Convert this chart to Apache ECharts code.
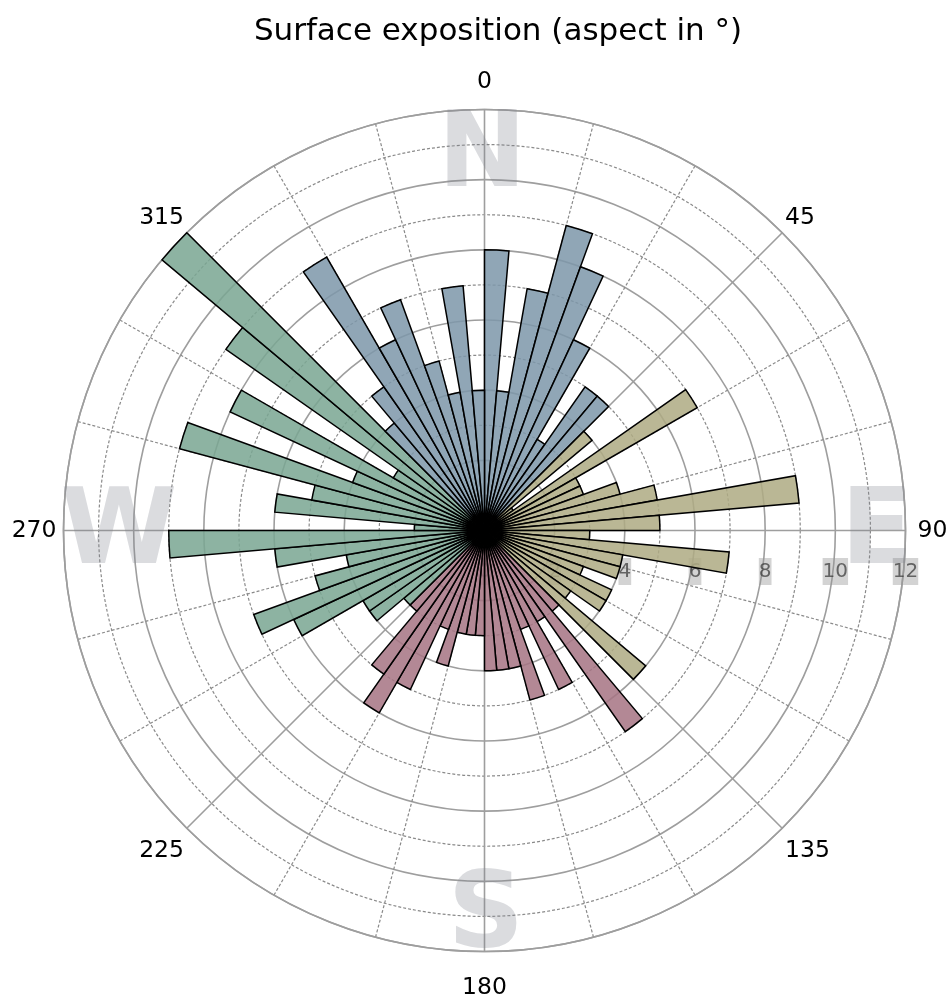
<!DOCTYPE html>
<html>
<head>
<meta charset="utf-8">
<script src="https://cdn.jsdelivr.net/npm/echarts@6/dist/echarts.min.js"></script>
<style>
  html, body { margin: 0; padding: 0; background: #ffffff; }
  #chart { width: 952px; height: 996px; }
</style>
</head>
<body>
<div id="chart"></div>
<script>
// Aspect bins: 72 sectors of 5°, each starting at the listed bearing (clockwise from north)
const sectorStart = Array.from({ length: 72 }, (_, i) => i * 5);

// Number of cells per aspect sector
const counts = [
  8, 4, 7, 9, 8, 6, 3, 5, 5,      // 0 - 45
  4, 1, 7, 3, 3, 4, 5, 9, 5,      // 45 - 90
  3, 7, 4, 4, 3, 4, 4, 3, 6,      // 90 - 135
  3, 7, 3, 5, 3, 5, 4, 4, 4,      // 135 - 180
  3, 3, 3, 4, 3, 5, 6, 5, 3,      // 180 - 225
  3, 4, 4, 6, 7, 5, 4, 6, 9,      // 225 - 270
  2, 6, 5, 9, 4, 8, 3, 9, 12,     // 270 - 315
  4, 5, 9, 6, 7, 5, 4, 7, 4       // 315 - 360
];

// Radial tick values and compass bearings for the angle labels
const radialTicks = [0, 2, 4, 6, 8, 10, 12];
const bearingLabels = [0, 45, 90, 135, 180, 225, 270, 315];

// Fill colour per compass quarter
const quarterColors = {
  N: 'rgba(126,151,170,0.86)',
  E: 'rgba(175,171,131,0.86)',
  S: 'rgba(167,116,132,0.86)',
  W: 'rgba(122,166,147,0.86)'
};
function quarterOf(deg) {
  if (deg >= 315 || deg < 45) return 'N';
  if (deg < 135) return 'E';
  if (deg < 225) return 'S';
  return 'W';
}

const CX = 484.5, CY = 530.5, R = 421;
const FONT = '"DejaVu Sans", "Liberation Sans", sans-serif';
const LETTER_FILL = 'rgba(125,130,140,0.28)';
const LABEL_SIZE = 23.5;

const chart = echarts.init(document.getElementById('chart'), null, { renderer: 'canvas' });

function compassLetter(ch, dx, dy) {
  return {
    type: 'text', x: CX + dx, y: CY + dy, z: 1, silent: true,
    style: {
      text: ch, fontFamily: FONT, fontSize: 106, fontWeight: 'bold',
      fill: LETTER_FILL, align: 'center', verticalAlign: 'middle'
    }
  };
}

function bearingStyle(pad) {
  return { fontFamily: FONT, fontSize: LABEL_SIZE, color: '#000', padding: pad };
}

const option = {
  backgroundColor: '#ffffff',
  animation: false,
  title: {
    text: 'Surface exposition (aspect in °)',
    left: 493,
    top: 11,
    textAlign: 'center',
    textStyle: { fontFamily: FONT, fontSize: 31, fontWeight: 'normal', color: '#000' }
  },
  polar: [
    { center: [CX, CY], radius: R },
    { center: [CX, CY], radius: R },
    { center: [CX, CY], radius: R }
  ],
  angleAxis: [
    {
      polarIndex: 0, type: 'category', data: sectorStart,
      startAngle: 90, clockwise: true, boundaryGap: true,
      axisLine: { show: false }, axisTick: { show: false },
      axisLabel: { show: false }, splitLine: { show: false }, z: 0
    },
    {
      polarIndex: 1, type: 'value', min: 0, max: 360, interval: 45,
      startAngle: 90, clockwise: true,
      axisLine: { show: true, lineStyle: { color: '#9e9e9e', width: 1.6 } },
      axisTick: { show: false },
      axisLabel: {
        show: true, margin: 4, color: '#000', fontFamily: FONT, fontSize: LABEL_SIZE,
        formatter: function (v) {
          if (bearingLabels.indexOf(v) < 0) return '';
          if (v === 0) return '{n|0}';
          if (v === 90) return '{e|90}';
          if (v === 180) return '{s|180}';
          if (v === 270) return '{w|270}';
          if (v === 135 || v === 225) return '{l|' + v + '}';
          return '{d|' + v + '}';
        },
        rich: {
          n: bearingStyle([0, 0, 12, 0]),
          e: bearingStyle([0, 0, 0, 8]),
          s: bearingStyle([20, 0, 0, 0]),
          w: bearingStyle([0, 3, 0, 0]),
          l: bearingStyle([8, 0, 0, 0]),
          d: bearingStyle([0, 0, 0, 0])
        }
      },
      splitLine: { show: true, lineStyle: { color: '#9e9e9e', width: 1.6 } },
      minorTick: { show: false, splitNumber: 3 },
      minorSplitLine: { show: true, lineStyle: { color: '#8a8a8a', width: 1.2, type: [3, 2] } },
      z: 0
    },
    {
      polarIndex: 2, type: 'value', min: 0, max: 360, startAngle: 0, clockwise: false,
      axisLine: { show: false }, axisTick: { show: false }, axisLabel: { show: false },
      splitLine: { show: false }, z: 0
    }
  ],
  radiusAxis: [
    { polarIndex: 0, type: 'value', min: 0, max: 12, show: false },
    {
      polarIndex: 1, type: 'value', min: 0, max: 12, interval: 2,
      axisLine: { show: false }, axisTick: { show: false }, axisLabel: { show: false },
      splitLine: { show: true, lineStyle: { color: '#9e9e9e', width: 1.6 } },
      minorTick: { show: false, splitNumber: 2 },
      minorSplitLine: { show: true, lineStyle: { color: '#8a8a8a', width: 1.2, type: [3, 2] } },
      z: 0
    },
    {
      polarIndex: 2, type: 'value', min: 0, max: 12, interval: 2,
      axisLine: { show: false }, axisTick: { show: false }, splitLine: { show: false },
      axisLabel: {
        show: true, margin: -41, verticalAlign: 'middle', align: 'center',
        color: 'rgba(55,55,55,0.72)', fontFamily: FONT, fontSize: 20,
        backgroundColor: 'rgba(150,150,150,0.42)', lineHeight: 27, padding: [0, 0],
        formatter: function (v) { return radialTicks.indexOf(v) >= 0 ? String(v) : ''; }
      },
      z: 0
    }
  ],
  graphic: [
    compassLetter('N', -2.5, -372),
    compassLetter('E', 392.5, 5),
    compassLetter('S', 1.5, 389),
    compassLetter('W', -365.5, 5)
  ],
  series: [
    {
      type: 'bar',
      coordinateSystem: 'polar',
      polarIndex: 0,
      barCategoryGap: '0%',
      z: 3,
      itemStyle: { borderColor: '#000000', borderWidth: 1.5 },
      data: counts.map(function (v, i) {
        return { value: v, itemStyle: { color: quarterColors[quarterOf(sectorStart[i])] } };
      })
    }
  ]
};

chart.setOption(option);
</script>
</body>
</html>
